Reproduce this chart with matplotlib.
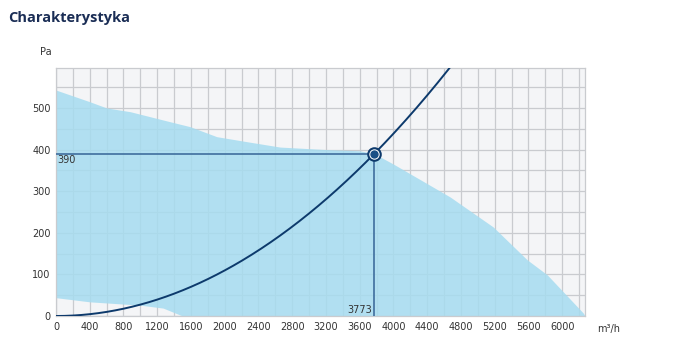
import numpy as np
import matplotlib
matplotlib.use("Agg")
import matplotlib.pyplot as plt

# Data
upper_q = [0, 400, 600, 880, 1350, 1590, 1905, 2260, 2656, 3200, 3600, 3773, 4000, 4400, 4672, 5182, 5585, 5822, 6250, 6270]
upper_p = [543, 515, 500, 491, 467, 455, 431, 419, 406, 400, 397, 390, 365, 318, 286, 214, 135, 99, 7, 0]
lower_q = [0, 400, 1000, 1270, 1500, 6270]
lower_p = [44, 34, 26, 19, 0, 0]
op_q = 3773
op_p = 390
x_ticks = list(range(0, 6001, 400))
y_ticks = list(range(0, 501, 100))

fig = plt.figure(figsize=(6.79, 3.58), dpi=100)
ax = fig.add_axes([56/679, 1-316/358, (585-56)/679, (316-68)/358])
ax.set_facecolor("#f4f5f7")
ax.set_xlim(0, 6270)
ax.set_ylim(0, 596)

for x in range(0, 6270, 200):
    ax.axvline(x, color="#c9cbcf", lw=0.9, zorder=1)
for y in range(0, 600, 50):
    ax.axhline(y, color="#c9cbcf", lw=0.9, zorder=1)

uq = np.array(upper_q, float); up = np.array(upper_p, float)
lq = np.array(lower_q, float); lp = np.array(lower_p, float)
xs = np.linspace(0, 6270, 800)
ax.fill_between(xs, np.interp(xs, lq, lp), np.interp(xs, uq, up),
                color="#a6dcf0", alpha=0.85, lw=0, zorder=2)

k = op_p / op_q**2
qc = np.linspace(0, 5000, 400)
ax.plot(qc, k*qc**2, color="#0d3a6c", lw=1.4, zorder=4)

ax.plot([0, op_q], [op_p, op_p], color="#3f6e9e", lw=1.2, zorder=3)
ax.plot([op_q, op_q], [0, op_p], color="#3f6e9e", lw=1.2, zorder=3)
ax.plot([op_q], [op_p], marker="o", ms=9, mfc="white", mec="#0d3a6c", mew=1.5, zorder=5)
ax.plot([op_q], [op_p], marker="o", ms=5, mfc="#1a4f86", mec="#1a4f86", zorder=6)

ax.text(20, op_p - 4, str(op_p), fontsize=7, color="#333333", ha="left", va="top", zorder=6)
ax.text(op_q - 30, 3, str(op_q), fontsize=7, color="#333333", ha="right", va="bottom", zorder=6)

ax.set_xticks(x_ticks)
ax.set_yticks(y_ticks)
ax.tick_params(length=0, labelsize=7, labelcolor="#333333", pad=4)
for s in ax.spines.values():
    s.set_color("#c9cbcf")
    s.set_linewidth(0.9)

fig.text(8/679, 1-18/358, "Charakterystyka", fontsize=10.5, fontweight="bold",
         color="#1a2d55", ha="left", va="center", family="Open Sans")
fig.text(40/679, 1-52/358, "Pa", fontsize=7, color="#333333", ha="left", va="center")
fig.text(597/679, 1-329/358, "m³/h", fontsize=7, color="#333333", ha="left", va="center")

fig.savefig("out.png", dpi=100)
